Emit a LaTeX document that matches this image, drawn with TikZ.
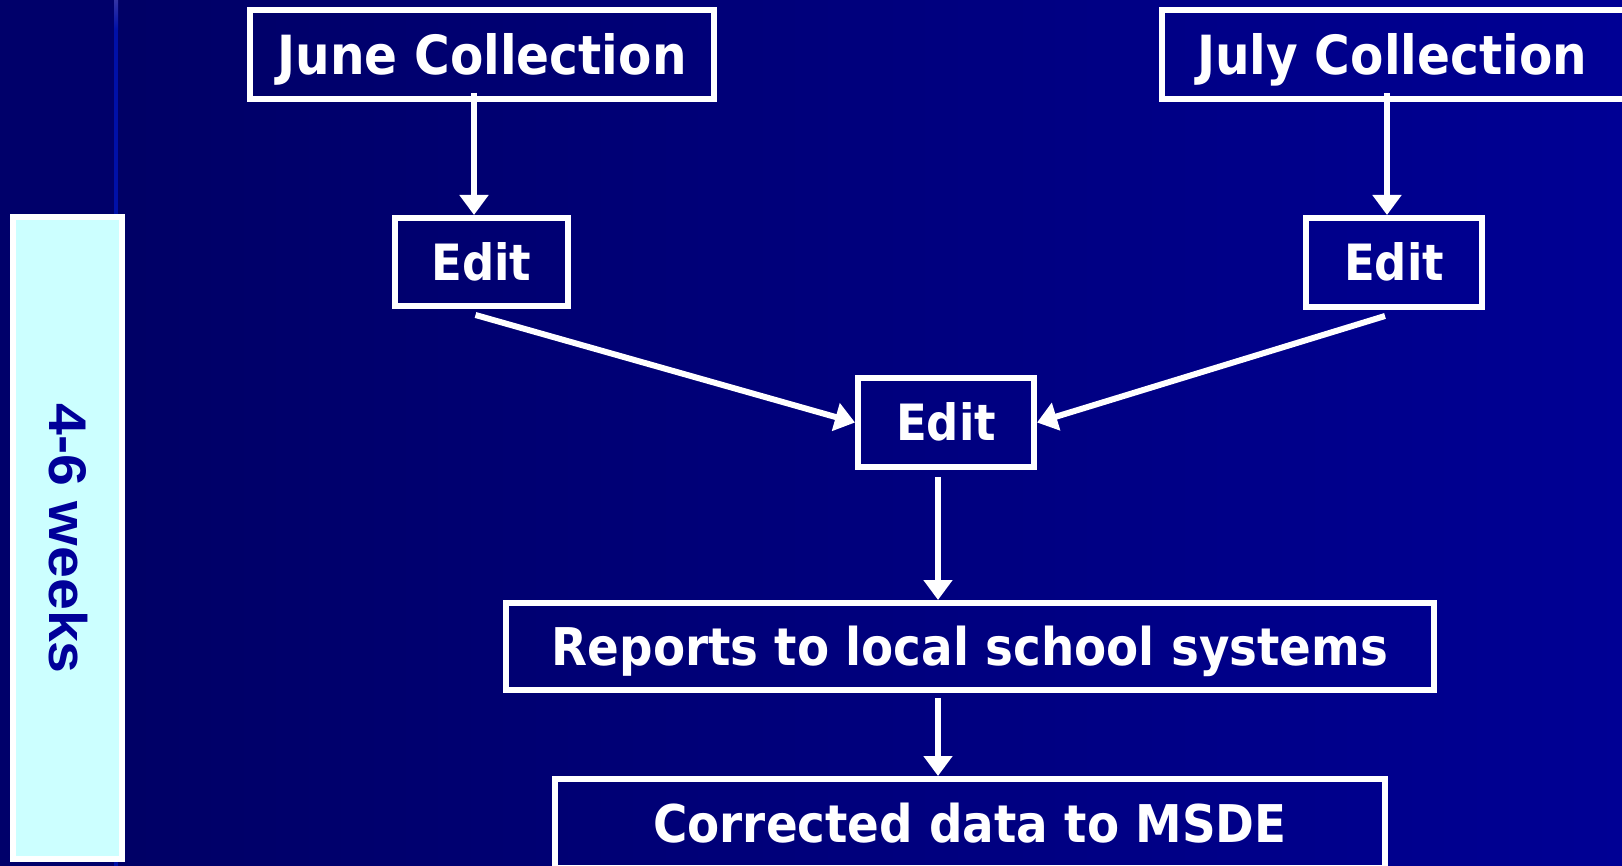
\documentclass[tikz,border=0pt]{standalone}
\usepackage{fontspec}
\usetikzlibrary{arrows.meta,calc}
\newfontfamily\boxfont{DejaVu Sans}[FakeStretch=0.9]
\newfontfamily\wkfont{Liberation Sans}[FakeStretch=1.08]
\definecolor{bgleft}{HTML}{000062}
\definecolor{bgmid}{HTML}{000072}
\definecolor{bgright}{HTML}{000094}
\definecolor{stripe}{HTML}{0010A8}
\definecolor{weekfill}{HTML}{CCFFFF}
\definecolor{weektext}{HTML}{000099}
\tikzset{
  flowbox/.style={draw=white, line width=6pt, inner sep=0pt, align=center,
    text=white, text depth=0pt},
  arr/.style={draw=white, line width=6pt,
    -{Triangle[width=28pt,length=20pt]}},
}
\begin{document}
\begin{tikzpicture}[x=1pt,y=-1pt]
\useasboundingbox (0,0) rectangle (1622,866);
\clip (0,0) rectangle (1622,866);
\shade[left color=bgleft, middle color=bgmid, right color=bgright] (0,0) rectangle (1622,866);
\fill[bgleft!95!blue] (0,0) rectangle (114,866);
\shade[top color=blue!55!black!80, bottom color=stripe] (114,0) rectangle (118,30);
\fill[stripe] (114,30) rectangle (118,866);

\node[flowbox, minimum width=464pt, minimum height=89pt, text height=39.4pt,
  font=\boxfont\bfseries\fontsize{54}{60}\selectfont] (june) at (482,54.5) {June Collection};
\node[flowbox, minimum width=500pt, minimum height=89pt, text height=39.4pt,
  font=\boxfont\bfseries\fontsize{54}{60}\selectfont] (july) at (1412,54.5) {\hspace*{-40pt}July Collection};
\node[flowbox, minimum width=173pt, minimum height=88pt, text height=36.5pt,
  font=\boxfont\bfseries\fontsize{50}{56}\selectfont] (edit1) at (481.5,262) {Edit};
\node[flowbox, minimum width=176pt, minimum height=89pt, text height=36.5pt,
  font=\boxfont\bfseries\fontsize{50}{56}\selectfont] (edit2) at (1394,262.5) {Edit};
\node[flowbox, minimum width=176pt, minimum height=89pt, text height=36.5pt,
  font=\boxfont\bfseries\fontsize{50}{56}\selectfont] (edit3) at (946,422.5) {Edit};
\node[flowbox, minimum width=928pt, minimum height=87pt, text height=37.9pt,
  font=\boxfont\bfseries\fontsize{52}{58}\selectfont] (reports) at (970,646.5) {Reports to local school systems};
\node[flowbox, minimum width=830pt, minimum height=89pt, text height=37.9pt,
  font=\boxfont\bfseries\fontsize{52}{58}\selectfont] (corrected) at (970,823.5) {Corrected data to MSDE};

\node[draw=white, line width=6pt, fill=weekfill, minimum width=109pt, minimum height=642pt,
  inner sep=0pt] (weeksbox) at (67.5,538) {};
\node[rotate=-90, text=weektext, inner sep=0pt,
  font=\wkfont\bfseries\fontsize{53}{60}\selectfont] (weeks) at (68,538.5) {4-6 weeks};

\coordinate (col) at ([xshift=-8pt]edit3.south);
\draw[arr] ([xshift=-8pt,yshift=9pt]june.south) -- ([xshift=-8pt]june.south |- edit1.north);
\draw[arr] ([xshift=-7pt,yshift=9pt]edit2.north |- july.south) -- ([xshift=-7pt]edit2.north);
\draw[arr] ([xshift=-6pt,yshift=-6pt]edit1.south) -- (edit3.west);
\draw[arr] ([xshift=-9pt,yshift=-6pt]edit2.south) -- (edit3.east);
\draw[arr] ([yshift=-7pt]col) -- (col |- reports.north);
\draw[arr] ([yshift=-5pt]col |- reports.south) -- (col |- corrected.north);
\end{tikzpicture}
\end{document}
